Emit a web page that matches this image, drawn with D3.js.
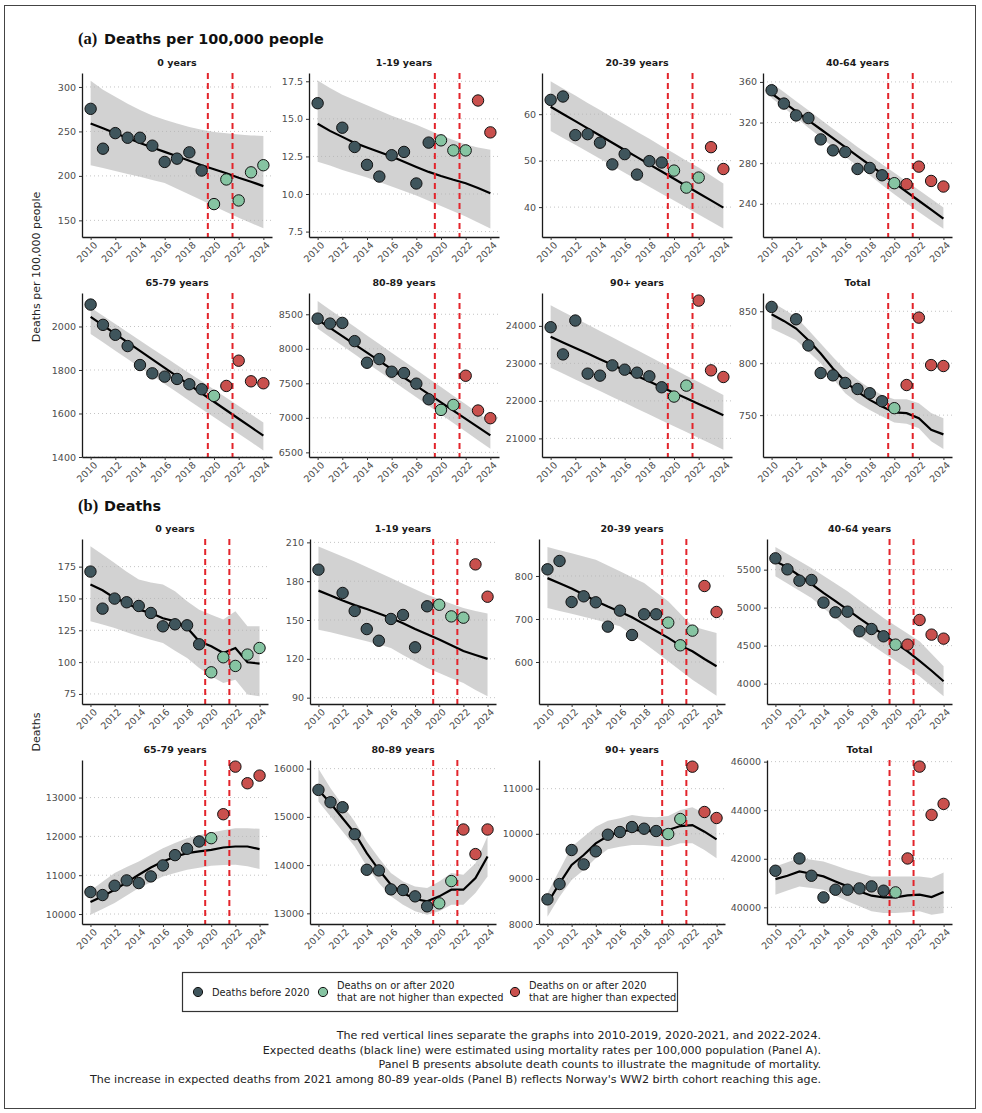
<!DOCTYPE html>
<html>
<head>
<meta charset="utf-8">
<script src="https://cdn.jsdelivr.net/npm/d3@7"></script>
<style>
  body { margin: 0; background: #fff; }
  text { font-family: "DejaVu Sans", sans-serif; }
</style>
</head>
<body>
<svg id="chart" width="982" height="1113"></svg>
<script>
// ---- data ----
var years = [2010, 2011, 2012, 2013, 2014, 2015, 2016, 2017, 2018, 2019, 2020, 2021, 2022, 2023, 2024];
var groups = ["0 years", "1-19 years", "20-39 years", "40-64 years", "65-79 years", "80-89 years", "90+ years", "Total"];

// years (2020+) where deaths were higher than expected, per group
var excessYears = [
    [],
    [2023, 2024],
    [2023, 2024],
    [2021, 2022, 2023, 2024],
    [2021, 2022, 2023, 2024],
    [2022, 2023, 2024],
    [2022, 2023, 2024],
    [2021, 2022, 2023, 2024]
];

// (a) deaths per 100,000 people
var rateObserved = [
    [275.4, 230.6, 248.1, 242.9, 242.9, 234, 215.7, 219.4, 226.5, 206, 168.3, 196, 172.4, 204, 212],
    [16.04, null, 14.41, 13.13, 11.94, 11.16, 12.58, 12.8, 10.7, 13.42, 13.57, 12.9, 12.9, 16.22, 14.1],
    [63.07, 63.8, 55.5, 55.7, 53.86, 49.2, 51.4, 47, 49.9, 49.6, 47.86, 44.2, 46.36, 52.9, 48.2],
    [351.8, 338.7, 327, 324.4, 303.4, 292.6, 291, 274.3, 275.3, 268.1, 260.3, 259.3, 276.6, 262.5, 257],
    [2100.8, 2007.6, 1961.8, 1910, 1822.9, 1784.7, 1769.5, 1758.8, 1734.4, 1711.5, 1681, 1726.7, 1842.8, 1748, 1739],
    [8437, 8365, 8375, 8111, 7798, 7851, 7668, 7649, 7495, 7269, 7115, 7187, 7610, 7106, 6995],
    [23964, 23239, 24142, 22726, 22673, 22947, 22832, 22752, 22655, 22363, 22115, 22407, 24673, 22814, 22637],
    [854.2, null, 842.3, 817.1, 790.6, 788.3, 781, 775.2, 771.1, 763.4, 756.7, 779, 843.9, 798.2, 797.3]
];
var rateExpected = [
    [259, 253.5, 248, 242.5, 237, 232, 227, 222, 217, 212, 207.5, 203, 198, 193.5, 188.5],
    [14.67, 14.2, 13.8, 13.4, 13.1, 12.8, 12.5, 12.15, 11.8, 11.47, 11.2, 10.95, 10.72, 10.4, 10.05],
    [61.6, 60.05, 58.5, 56.95, 55.4, 53.85, 52.3, 50.75, 49.2, 47.65, 46.1, 44.55, 43, 41.45, 39.9],
    [348.6, 339.8, 331, 322.2, 313.4, 304.6, 295.8, 287, 278.2, 269.4, 260.6, 251.8, 243, 234.2, 225.4],
    [2044, 2005, 1966, 1927, 1888, 1849, 1810, 1771, 1732, 1693, 1654, 1615, 1576, 1537, 1498],
    [8423, 8303, 8183, 8063, 7944, 7824, 7704, 7584, 7464, 7344, 7224, 7105, 6985, 6865, 6745],
    [23708, 23559, 23410, 23260, 23111, 22962, 22813, 22664, 22514, 22365, 22216, 22067, 21918, 21768, 21619],
    [847.1, 840.7, 833.4, 822.2, 809.4, 795, 782.3, 772.7, 764.7, 758.3, 752.6, 751.9, 747.1, 736, 731.5]
];
var rateUpper = [
    [307, 297, 289, 281, 274, 268, 263, 259, 255, 252, 249.5, 248, 246.5, 245.5, 245],
    [17.55, 17.05, 16.6, 16.25, 15.9, 15.55, 15.2, 14.9, 14.6, 14.25, 13.9, 13.6, 13.3, 13.1, 12.95],
    [67.1, 65.5, 64, 62.4, 60.9, 59.3, 57.8, 56.2, 54.7, 53.1, 51.6, 50, 48.5, 46.8, 45.1],
    [359, 350, 341, 332, 323, 314, 305, 296, 287.5, 279, 270.5, 262, 253.5, 245, 236.4],
    [2087, 2049, 2012, 1974, 1936, 1898, 1861, 1823, 1785, 1748, 1710, 1672, 1634, 1597, 1559],
    [8692, 8567, 8443, 8318, 8194, 8069, 7944, 7820, 7695, 7571, 7446, 7321, 7197, 7072, 6947],
    [24549, 24378, 24208, 24037, 23866, 23696, 23525, 23354, 23183, 23013, 22842, 22671, 22501, 22330, 22159],
    [859, 852, 844.6, 832, 819, 806, 793.4, 784, 776, 769.5, 765.3, 765.3, 761.5, 752, 747]
];
var rateLower = [
    [212, 209, 205.5, 202, 199, 195.5, 192, 185.5, 179, 172.5, 166, 159.5, 153, 147, 141],
    [12.15, 11.9, 11.6, 11.35, 11.1, 10.8, 10.5, 10.2, 9.9, 9.55, 9.2, 8.85, 8.5, 8.1, 7.7],
    [56.4, 54.9, 53.4, 51.9, 50.4, 48.9, 47.4, 45.9, 44.4, 42.9, 41.4, 39.9, 38.4, 36.9, 35.4],
    [344.3, 334.5, 325, 315, 305.5, 296, 286.5, 277, 268, 258.5, 249.5, 240.5, 232, 223.5, 215.5],
    [1965, 1927, 1889, 1850, 1812, 1774, 1736, 1698, 1659, 1621, 1583, 1545, 1507, 1469, 1430],
    [8293, 8169, 8044, 7920, 7796, 7671, 7547, 7423, 7299, 7174, 7050, 6926, 6801, 6677, 6553],
    [22885, 22729, 22573, 22417, 22261, 22105, 21948, 21792, 21636, 21480, 21324, 21168, 21011, 20855, 20699],
    [833.4, 828, 822.2, 811, 800, 785, 771, 762, 755, 748.7, 743, 741.7, 737.5, 724.8, 717.4]
];
var rateYRange = [[131.3, 315.7], [7.14, 18.05], [33.57, 68.86], [207.3, 368.8], [1400, 2154], [6433, 8808], [20504, 24876], [709.7, 867.6]];
var rateTicks = [
    [150, 200, 250, 300],
    [7.5, 10, 12.5, 15, 17.5],
    [40, 50, 60],
    [240, 280, 320, 360],
    [1400, 1600, 1800, 2000],
    [6500, 7000, 7500, 8000, 8500],
    [21000, 22000, 23000, 24000],
    [750, 800, 850]
];

// (b) deaths
var deathObserved = [
    [171.1, 142, 149.9, 147, 144.1, 138.6, 128.1, 129.7, 128.9, 114, 92, 103.8, 97, 105.9, 111.1],
    [188.9, null, 170.9, 157, 143, 134, 150.8, 153.9, 128.9, 160.6, 161.8, 152.8, 151.8, 193, 168],
    [815.5, 834.9, 739.5, 752.7, 738.8, 682.2, 719.4, 662.8, 710.9, 710.9, 691.5, 638.8, 672.9, 776.7, 716.3],
    [5649, 5504, 5355, 5364, 5066, 4939, 4947, 4689, 4719, 4623, 4513, 4513, 4838, 4645, 4592],
    [10566, 10489, 10729, 10866, 10797, 10969, 11252, 11517, 11680, 11869, 11954, 12571, 13797, 13369, 13566],
    [15559, 15303, 15200, 14641, 13903, 13890, 13497, 13483, 13352, 13145, 13207, 13669, 14738, 14228, 14738],
    [8546, 8886, 9640, 9322, 9611, 9980, 10039, 10150, 10113, 10061, 9995, 10327, 11488, 10483, 10350],
    [41507, null, 42013, 41301, 40410, 40726, 40726, 40780, 40863, 40685, 40616, 42013, 45795, 43808, 44260]
];
var deathExpected = [
    [160.9, 156.4, 150.4, 146.5, 141.2, 138.6, 134.5, 132, 127, 116.4, 112.4, 107.2, 111.1, 99.9, 98.8],
    [172.7, 169, 165, 161.5, 158.5, 155, 151.5, 147.5, 143, 139, 135, 130.5, 126, 123, 120],
    [795, 783, 771, 757, 742, 729, 717, 704, 688, 672, 656, 638, 625, 607, 590],
    [5610, 5530, 5420, 5311, 5195, 5085, 4974, 4860, 4750, 4645, 4535, 4425, 4300, 4170, 4031],
    [10309, 10455, 10626, 10815, 11012, 11200, 11355, 11475, 11569, 11612, 11654, 11714, 11740, 11740, 11672],
    [15559, 15283, 14972, 14662, 14248, 13903, 13593, 13420, 13297, 13248, 13352, 13490, 13490, 13731, 14179],
    [8458, 8901, 9308, 9529, 9788, 9951, 10047, 10084, 10069, 10047, 10084, 10172, 10194, 10047, 9877],
    [41164, 41301, 41479, 41383, 41274, 41068, 40863, 40657, 40479, 40410, 40410, 40493, 40520, 40424, 40630]
];
var deathUpper = [
    [191, 184.5, 177.9, 171, 164.8, 162.5, 160.9, 155.6, 147.8, 141.2, 137.3, 133.4, 139.9, 128.1, 128.1],
    [206.9, 203, 199, 195.3, 191, 186.7, 182.4, 178, 173.8, 169.6, 166, 162.5, 159.3, 157, 155],
    [867.4, 860, 853, 845.5, 838, 824.5, 810.9, 797, 783.7, 762, 741, 712, 683, 675, 667.4],
    [5798, 5706, 5614, 5522, 5420, 5317, 5215, 5098, 4981, 4864, 4762, 4659, 4557, 4393, 4228],
    [10600, 10830, 11055, 11210, 11355, 11530, 11697, 11830, 11954, 12030, 12100, 12160, 12212, 12210, 12194],
    [16000, 15593, 15248, 14903, 14490, 14145, 13834, 13662, 13559, 13524, 13662, 13834, 13800, 14041, 14600],
    [8680, 9197, 9714, 9936, 10158, 10290, 10342, 10416, 10379, 10364, 10394, 10527, 10586, 10453, 10364],
    [41685, 41860, 42027, 41960, 41890, 41720, 41548, 41410, 41274, 41274, 41274, 41274, 41274, 41205, 41438]
];
var deathLower = [
    [132.1, 129.5, 126.8, 123.5, 120.3, 117.5, 115, 109, 103.3, 95.4, 88.9, 83.6, 86.2, 74.5, 73.2],
    [142.5, 140.5, 138.2, 136, 133.5, 131, 128.4, 123, 118, 112.9, 109, 105, 101.3, 96, 91],
    [725.6, 718.8, 712, 705, 698.4, 690.7, 683, 663.6, 644.2, 623, 601.6, 580, 558.9, 540, 521.7],
    [5412, 5317, 5222, 5127, 4995, 4864, 4732, 4622, 4513, 4403, 4300, 4198, 4096, 3965, 3833],
    [9983, 10130, 10283, 10480, 10669, 10820, 10969, 11060, 11140, 11195, 11243, 11260, 11269, 11230, 11157],
    [15317, 15007, 14697, 14386, 13972, 13628, 13352, 13179, 13041, 12972, 13041, 13179, 13179, 13420, 13766],
    [8162, 8606, 8975, 9197, 9455, 9655, 9714, 9751, 9751, 9729, 9714, 9788, 9788, 9640, 9455],
    [40520, 40690, 40863, 40800, 40726, 40490, 40246, 40040, 39836, 39767, 39767, 39794, 39836, 39698, 39767]
];
var deathYRange = [[67.1, 196.7], [85.1, 212.6], [502.3, 886], [3732, 5903.5], [9743, 13968], [12779, 16179], [8000, 11636], [39314, 46068]];
var deathTicks = [
    [75, 100, 125, 150, 175],
    [90, 120, 150, 180, 210],
    [600, 700, 800],
    [4000, 4500, 5000, 5500],
    [10000, 11000, 12000, 13000],
    [13000, 14000, 15000, 16000],
    [8000, 9000, 10000, 11000],
    [40000, 42000, 44000, 46000]
];

var xTicks = [2010, 2012, 2014, 2016, 2018, 2020, 2022, 2024];
var periodBreaks = [2019.5, 2021.5];

var legendLabels = [
    ["Deaths before 2020"],
    ["Deaths on or after 2020", "that are not higher than expected"],
    ["Deaths on or after 2020", "that are higher than expected"]
];
var notes = [
    "The red vertical lines separate the graphs into 2010-2019, 2020-2021, and 2022-2024.",
    "Expected deaths (black line) were estimated using mortality rates per 100,000 population (Panel A).",
    "Panel B presents absolute death counts to illustrate the magnitude of mortality.",
    "The increase in expected deaths from 2021 among 80-89 year-olds (Panel B) reflects Norway's WW2 birth cohort reaching this age."
];

// ---- drawing ----
var colors = {before: "#3f555c", notHigher: "#86c4a2", higher: "#c9504d"};

var svg = d3.select("#chart");

svg.append("rect")
    .attr("x", 4.5).attr("y", 5.5)
    .attr("width", 971).attr("height", 1103)
    .attr("fill", "#fff")
    .attr("stroke", "#444")
    .attr("stroke-width", 1);

// panel boxes: a-rows and b-rows have slightly different column edges
var colsA = [[82, 272], [309, 499], [542, 732], [763, 952]];
var colsB = [[82, 268], [310, 496], [539, 725], [767, 952]];
var rowsA = [[73, 237], [293, 457]];
var rowsB = [[539, 704], [760, 924]];

function drawPanel(box, title, obs, exp, upper, lower, yRange, ticks, fmt, excess) {

    var x = d3.scaleLinear().domain([2009.3, 2024.7]).range([box.left, box.right]);
    var y = d3.scaleLinear().domain(yRange).range([box.bottom, box.top]);

    var rows = years.map(function (yr, i) {
        return {year: yr, obs: obs[i], exp: exp[i], up: upper[i], lo: lower[i]};
    });

    var g = svg.append("g");

    g.selectAll(".grid")
        .data(ticks)
        .enter().append("line")
        .attr("x1", box.left).attr("x2", box.right)
        .attr("y1", function (d) { return y(d); })
        .attr("y2", function (d) { return y(d); })
        .attr("stroke", "#c4c4c4")
        .attr("stroke-width", 1)
        .attr("stroke-dasharray", "1,3");

    g.append("path")
        .datum(rows)
        .attr("d", d3.area()
            .x(function (d) { return x(d.year); })
            .y0(function (d) { return y(d.lo); })
            .y1(function (d) { return y(d.up); }))
        .attr("fill", "#b4b4b4")
        .attr("fill-opacity", 0.6);

    g.append("path")
        .datum(rows)
        .attr("d", d3.line()
            .x(function (d) { return x(d.year); })
            .y(function (d) { return y(d.exp); }))
        .attr("fill", "none")
        .attr("stroke", "#000")
        .attr("stroke-width", 2.2);

    g.selectAll(".sep")
        .data(periodBreaks)
        .enter().append("line")
        .attr("x1", function (d) { return x(d); })
        .attr("x2", function (d) { return x(d); })
        .attr("y1", box.top).attr("y2", box.bottom)
        .attr("stroke", "#e3242b")
        .attr("stroke-width", 2)
        .attr("stroke-dasharray", "6,4");

    g.selectAll(".pt")
        .data(rows.filter(function (d) { return d.obs != null; }))
        .enter().append("circle")
        .attr("cx", function (d) { return x(d.year); })
        .attr("cy", function (d) { return y(d.obs); })
        .attr("r", 5.7)
        .attr("fill", function (d) {
            if (d.year < 2020) return colors.before;
            return excess.indexOf(d.year) >= 0 ? colors.higher : colors.notHigher;
        })
        .attr("stroke", "#111")
        .attr("stroke-width", 1);

    var ya = g.append("g")
        .attr("transform", "translate(" + box.left + ",0)")
        .call(d3.axisLeft(y).tickValues(ticks).tickFormat(fmt).tickSize(3).tickSizeOuter(0));

    var xa = g.append("g")
        .attr("transform", "translate(0," + box.bottom + ")")
        .call(d3.axisBottom(x).tickValues(xTicks).tickFormat(d3.format("d")).tickSize(3).tickSizeOuter(0));

    [ya, xa].forEach(function (a) {
        a.select(".domain").attr("stroke", "#1a1a1a").attr("stroke-width", 1.3);
        a.selectAll(".tick line").attr("stroke", "#333");
        a.selectAll("text")
            .attr("fill", "#4d4d4d")
            .style("font-size", "9.5px")
            .style("font-family", "'DejaVu Sans', sans-serif");
    });

    xa.selectAll("text")
        .attr("y", 0).attr("x", 0)
        .attr("dy", "0.71em")
        .attr("text-anchor", "end")
        .attr("transform", "translate(2,4) rotate(-45)");

    g.append("text")
        .attr("x", (box.left + box.right) / 2)
        .attr("y", box.top - 7)
        .attr("text-anchor", "middle")
        .attr("font-weight", "bold")
        .attr("font-size", "9.5px")
        .attr("fill", "#1a1a1a")
        .text(title);
}

function rateFormat(i) {
    return i === 1 ? d3.format(".1f") : d3.format("d");
}

groups.forEach(function (name, i) {
    var c = i % 4, r = Math.floor(i / 4);
    drawPanel({left: colsA[c][0], right: colsA[c][1], top: rowsA[r][0], bottom: rowsA[r][1]},
        name, rateObserved[i], rateExpected[i], rateUpper[i], rateLower[i],
        rateYRange[i], rateTicks[i], rateFormat(i), excessYears[i]);
    drawPanel({left: colsB[c][0], right: colsB[c][1], top: rowsB[r][0], bottom: rowsB[r][1]},
        name, deathObserved[i], deathExpected[i], deathUpper[i], deathLower[i],
        deathYRange[i], deathTicks[i], d3.format("d"), excessYears[i]);
});

// section titles: serif letter tag + sans label
function sectionTitle(yPos, letter, label) {
    svg.append("text")
        .attr("x", 78).attr("y", yPos)
        .style("font-family", "'Liberation Serif', serif")
        .attr("font-weight", "bold")
        .attr("font-size", "16.5px")
        .attr("fill", "#111")
        .text("(" + letter + ")");
    svg.append("text")
        .attr("x", 104).attr("y", yPos)
        .attr("font-weight", "bold")
        .attr("font-size", "14.4px")
        .attr("fill", "#111")
        .text(label);
}
sectionTitle(44, "a", "Deaths per 100,000 people");
sectionTitle(511, "b", "Deaths");

// y axis titles
[["Deaths per 100,000 people", 267], ["Deaths", 732]].forEach(function (d) {
    svg.append("text")
        .attr("transform", "translate(40," + d[1] + ") rotate(-90)")
        .attr("text-anchor", "middle")
        .attr("font-size", "11px")
        .attr("fill", "#222")
        .text(d[0]);
});

// legend
var legend = svg.append("g");
legend.append("rect")
    .attr("x", 182.5).attr("y", 972.5)
    .attr("width", 495).attr("height", 39)
    .attr("fill", "#fff")
    .attr("stroke", "#333")
    .attr("stroke-width", 1.2);

var legendX = [198, 323, 515];
var legendColors = [colors.before, colors.notHigher, colors.higher];
legendLabels.forEach(function (lines, i) {
    legend.append("circle")
        .attr("cx", legendX[i]).attr("cy", 992)
        .attr("r", 4.6)
        .attr("fill", legendColors[i])
        .attr("stroke", "#111");
    var t = legend.append("text")
        .attr("x", legendX[i] + 14)
        .attr("y", lines.length === 1 ? 995.5 : 988.5)
        .attr("font-size", "9.8px")
        .attr("fill", "#222");
    lines.forEach(function (s, k) {
        t.append("tspan").attr("x", legendX[i] + 14).attr("dy", k === 0 ? 0 : "1.3em").text(s);
    });
});

// footnotes, right aligned
svg.selectAll(".note")
    .data(notes)
    .enter().append("text")
    .attr("x", 821)
    .attr("y", function (d, i) { return 1039 + i * 14.6; })
    .attr("text-anchor", "end")
    .attr("font-size", "11.1px")
    .attr("fill", "#222")
    .text(function (d) { return d; });
</script>
</body>
</html>
